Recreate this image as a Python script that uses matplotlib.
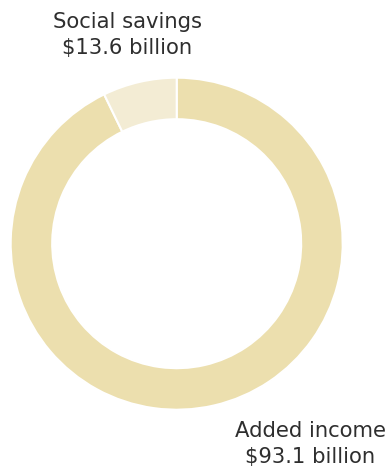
import matplotlib
matplotlib.use("Agg")
import matplotlib.pyplot as plt

# Data
categories = ["Added income", "Social savings"]
amounts_billion = [93.1, 13.6]          # values shown in labels
slice_shares = [92.8, 7.2]              # arc shares as drawn in the picture (%)
colors = ["#ecdfae", "#f3ecd4"]

W, H = 390, 467
fig = plt.figure(figsize=(W / 100, H / 100), dpi=100)
ax = fig.add_axes([0, 0, 1, 1])

cx, cy, r_out, r_in = 176.7, H - 243.7, 166, 124.5
ax.pie(slice_shares, colors=colors, startangle=90, counterclock=False,
       center=(cx, cy), radius=r_out, frame=True,
       wedgeprops=dict(width=r_out - r_in, edgecolor="white", linewidth=1.5))
ax.set_xlim(0, W)
ax.set_ylim(0, H)
ax.set_aspect("equal")
ax.axis("off")

txt_color = "#2e2e2e"
font = dict(family="DejaVu Sans", fontsize=15.2, color=txt_color, ha="center",
            va="baseline")

# label positions (pixels from top)
label_pos = {"Social savings": (127.5, 28, 54), "Added income": (310.5, 437, 463)}
for cat, amt in zip(categories, amounts_billion):
    x, y1, y2 = label_pos[cat]
    ax.text(x, H - y1, cat, **font)
    ax.text(x, H - y2, f"${amt} billion", **font)

fig.savefig("out.png", dpi=100)
